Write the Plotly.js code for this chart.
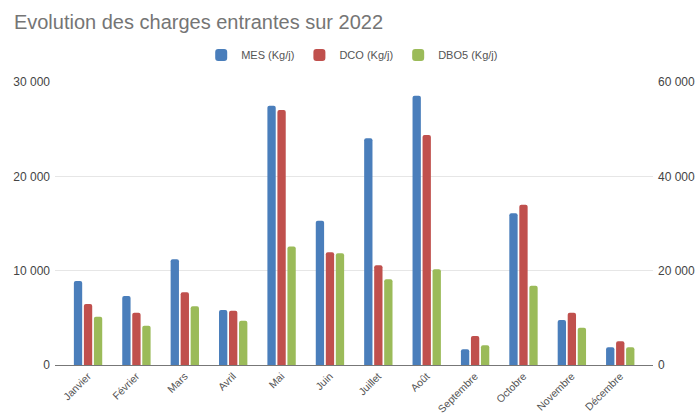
<!DOCTYPE html>
<html>
<head>
<meta charset="utf-8">
<script src="https://cdn.plot.ly/plotly-3.0.1.min.js"></script>
<style>html,body{margin:0;padding:0;background:#fff;}#chart{width:696px;height:415px;}</style>
</head>
<body>
<div id="chart"></div>
<script>
const months = ["Janvier","Février","Mars","Avril","Mai","Juin","Juillet","Août","Septembre","Octobre","Novembre","Décembre"];
const mes = [8900, 7320, 11210, 5830, 27470, 15300, 24040, 28530, 1660, 16090, 4770, 1880];
const dco = [12940, 11100, 15420, 11520, 54080, 23900, 21140, 48780, 6150, 34000, 11100, 5020];
const dbo5 = [5120, 4170, 6220, 4700, 12550, 11850, 9090, 10150, 2090, 8410, 3960, 1880];
const seriesNames = ["MES (Kg/j)", "DCO (Kg/j)", "DBO5 (Kg/j)"];
const colors = ["#4a7ebb", "#c0504d", "#9bbb59"];
const idx = months.map((m, i) => i);

const bw = 0.172;
const traces = [
  {type: "bar", x: idx, y: mes, name: seriesNames[0], width: bw, offset: -0.29,
   marker: {color: colors[0], cornerradius: 2}, yaxis: "y"},
  {type: "bar", x: idx, y: dco, name: seriesNames[1], width: bw, offset: -0.083,
   marker: {color: colors[1], cornerradius: 2}, yaxis: "y2"},
  {type: "bar", x: idx, y: dbo5, name: seriesNames[2], width: bw, offset: 0.124,
   marker: {color: colors[2], cornerradius: 2}, yaxis: "y"}
];

const layout = {
  width: 696, height: 415,
  margin: {l: 55, r: 43, t: 82, b: 50},
  paper_bgcolor: "#fff", plot_bgcolor: "#fff",
  separators: ", ",
  font: {family: "Liberation Sans, Arial, sans-serif", color: "#444", size: 10},
  title: {text: "Evolution des charges entrantes sur 2022", x: 0.02, xanchor: "left", y: 0.947, yanchor: "middle",
          font: {size: 20, color: "#757575", family: "Liberation Sans, Arial, sans-serif"}},
  barmode: "overlay",
  showlegend: true,
  legend: {orientation: "h", x: 0.497, xanchor: "center", y: 1.095, yanchor: "middle",
           font: {size: 11, color: "#555"}, traceorder: "normal"},
  xaxis: {
    tickmode: "array", tickvals: idx, ticktext: months,
    range: [-0.68, 11.68], tickangle: -45,
    showgrid: false, showline: true, linecolor: "#777", linewidth: 1,
    ticks: "", tickfont: {size: 10.5, color: "#555"}, zeroline: false, fixedrange: true
  },
  yaxis: {
    range: [0, 30000], tickvals: [0, 10000, 20000, 30000], tickformat: ",d",
    showgrid: true, gridcolor: "#e6e6e6", zeroline: false, showline: false,
    ticks: "", tickfont: {size: 12, color: "#444"}, ticklabelstandoff: 4
  },
  yaxis2: {
    range: [0, 60000], tickvals: [0, 20000, 40000, 60000], tickformat: ",d",
    overlaying: "y", side: "right", showgrid: false, zeroline: false, showline: false,
    ticks: "", tickfont: {size: 12, color: "#444"}, ticklabelstandoff: 4
  }
};

Plotly.newPlot("chart", traces, layout, {displayModeBar: false, staticPlot: true});
</script>
</body>
</html>
